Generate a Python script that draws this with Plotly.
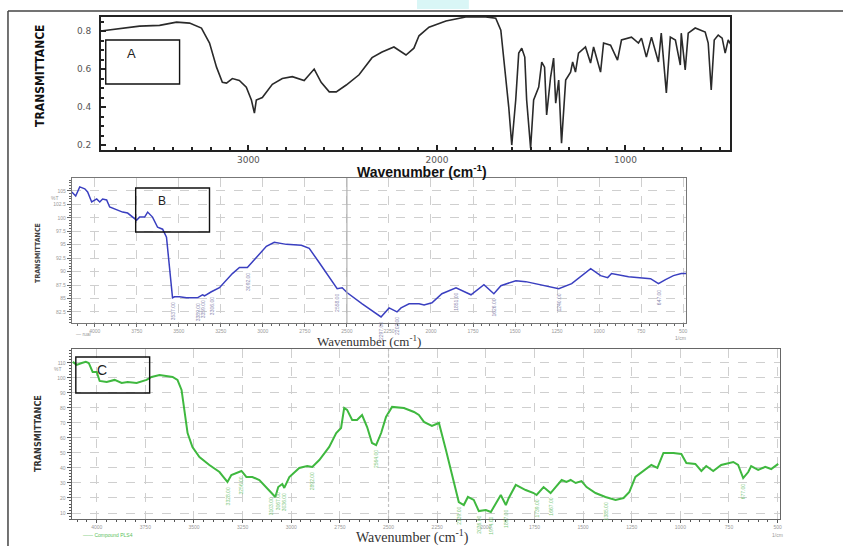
import numpy as np
import plotly.graph_objects as go

W, H = 845, 546

# ---------------- Panel A (black spectrum) ----------------
a_wavenumber = [3783, 3577, 3471, 3381, 3312, 3249, 3206, 3169, 3138, 3116, 3085, 3048, 3011, 2984, 2968,
                2958, 2926, 2873, 2820, 2767, 2704, 2651, 2614, 2571, 2534, 2481, 2413, 2344, 2291, 2228,
                2164, 2122, 2095, 2042, 1952, 1847, 1741, 1688, 1661, 1645, 1619, 1603, 1582, 1566, 1550,
                1534, 1524, 1503, 1487, 1460, 1444, 1429, 1418, 1397, 1381, 1370, 1354, 1339, 1317, 1291,
                1280, 1265, 1249, 1212, 1185, 1169, 1132, 1116, 1079, 1042, 1021, 968, 931, 915, 889,
                862, 825, 810, 783, 762, 735, 709, 704, 683, 667, 630, 577, 561, 545, 529, 508, 487, 471,
                455, 439]
a_transmittance = [0.800, 0.826, 0.830, 0.847, 0.842, 0.816, 0.737, 0.610, 0.530, 0.526, 0.550, 0.540, 0.505,
                   0.437, 0.368, 0.437, 0.450, 0.520, 0.550, 0.560, 0.540, 0.600, 0.530, 0.480, 0.480, 0.516,
                   0.570, 0.660, 0.690, 0.716, 0.674, 0.710, 0.775, 0.820, 0.853, 0.874, 0.874, 0.868, 0.805,
                   0.647, 0.400, 0.200, 0.437, 0.684, 0.710, 0.663, 0.437, 0.184, 0.437, 0.505, 0.637, 0.610,
                   0.358, 0.558, 0.658, 0.420, 0.542, 0.210, 0.542, 0.584, 0.637, 0.584, 0.684, 0.716, 0.632,
                   0.716, 0.584, 0.737, 0.726, 0.647, 0.753, 0.768, 0.737, 0.763, 0.663, 0.768, 0.637, 0.789,
                   0.474, 0.768, 0.753, 0.621, 0.789, 0.595, 0.789, 0.816, 0.795, 0.737, 0.490, 0.753, 0.779,
                   0.763, 0.684, 0.753, 0.726]
a_yticks = [0.2, 0.4, 0.6, 0.8]
a_xticks = [3000, 2000, 1000]

# ---------------- Panel B (blue spectrum) ----------------
b_wavenumber = [4136, 4113, 4089, 4059, 4042, 4018, 3988, 3970, 3953, 3929, 3911, 3869, 3834, 3804, 3774,
                3751, 3733, 3703, 3685, 3656, 3626, 3596, 3573, 3555, 3537, 3525, 3496, 3454, 3389, 3359,
                3347, 3306, 3258, 3181, 3139, 3092, 3039, 2979, 2932, 2860, 2771, 2724, 2665, 2605, 2558,
                2528, 2498, 2409, 2297, 2249, 2202, 2178, 2130, 2071, 2041, 1994, 1935, 1851, 1762, 1685,
                1626, 1584, 1495, 1436, 1240, 1163, 1050, 991, 949, 926, 825, 694, 647, 605, 558, 511, 481]
b_transmittance = [104.81, 104.06, 105.75, 105.38, 104.81, 102.94, 103.5, 102.94, 103.5, 103.31, 102.0, 101.44,
                   101.06, 100.88, 100.13, 99.56, 100.13, 100.13, 101.06, 100.13, 98.25, 97.88, 96.38, 90.75,
                   85.13, 85.31, 85.31, 85.13, 85.13, 85.69, 85.5, 86.25, 87.0, 89.63, 90.75, 90.75, 92.63,
                   94.69, 95.44, 95.06, 94.88, 94.31, 91.69, 88.88, 86.81, 87.0, 86.06, 84.0, 81.56, 83.25,
                   82.5, 83.25, 84.0, 84.0, 83.81, 84.19, 85.88, 87.0, 85.69, 87.56, 85.88, 87.38, 88.31, 88.13,
                   86.81, 87.75, 90.56, 89.25, 88.88, 89.63, 89.06, 88.69, 87.75, 88.5, 89.25, 89.63, 89.63]
b_peaks = [3537, 3389, 3359, 3306, 3092, 2558, 2297, 2202, 1851, 1626, 1240, 647]
b_yticks = [82.5, 85, 87.5, 90, 92.5, 95, 97.5, 100, 102.5, 105]
b_xticks = [4000, 3750, 3500, 3250, 3000, 2750, 2500, 2250, 2000, 1750, 1500, 1250, 1000, 750, 500]

# ---------------- Panel C (green spectrum) ----------------
c_wavenumber = [4123, 4103, 4077, 4056, 4041, 4021, 4000, 3985, 3949, 3908, 3872, 3841, 3795, 3744, 3718,
                3677, 3610, 3585, 3564, 3549, 3533, 3508, 3472, 3421, 3369, 3344, 3328, 3308, 3282, 3256,
                3231, 3200, 3164, 3128, 3103, 3082, 3067, 3046, 3036, 3010, 2959, 2918, 2892, 2856, 2805,
                2769, 2744, 2728, 2713, 2687, 2662, 2636, 2610, 2585, 2564, 2538, 2513, 2482, 2421, 2369,
                2344, 2318, 2277, 2241, 2205, 2164, 2139, 2113, 2092, 2062, 2036, 2000, 1974, 1959, 1923,
                1897, 1882, 1846, 1795, 1754, 1739, 1703, 1667, 1641, 1610, 1585, 1564, 1538, 1508, 1482,
                1436, 1385, 1333, 1292, 1262, 1231, 1179, 1149, 1118, 1087, 1036, 995, 969, 923, 892, 867,
                831, 790, 728, 703, 677, 651, 636, 600, 564, 533, 497]
c_transmittance = [110.7, 108.7, 110.0, 110.7, 110.0, 104.0, 104.0, 98.0, 97.3, 98.7, 96.7, 97.3, 96.7, 98.7,
                   100.7, 102.0, 100.7, 98.7, 92.0, 76.7, 63.3, 54.0, 47.3, 42.0, 37.3, 33.3, 30.7, 35.3, 36.7,
                   38.0, 34.0, 34.0, 32.0, 27.3, 24.0, 20.7, 27.3, 29.3, 26.7, 34.0, 40.0, 41.3, 40.7, 45.3,
                   54.0, 63.3, 66.7, 80.0, 78.7, 72.0, 72.0, 75.3, 67.3, 56.7, 55.3, 63.3, 74.0, 80.7, 80.0,
                   77.3, 75.3, 70.7, 68.0, 70.0, 52.0, 30.0, 17.3, 15.3, 20.7, 18.7, 11.3, 12.0, 10.7, 14.0,
                   22.0, 15.3, 20.0, 28.7, 25.3, 23.3, 22.0, 27.3, 23.3, 27.3, 32.0, 30.7, 32.0, 30.0, 31.3,
                   27.3, 23.3, 20.7, 18.7, 20.0, 24.0, 34.0, 38.7, 42.0, 40.0, 50.0, 50.0, 49.3, 43.3, 42.7,
                   38.0, 41.3, 38.0, 42.0, 44.0, 42.0, 33.3, 37.3, 41.3, 38.7, 40.7, 39.3, 42.7]
c_peaks = [3328, 3256, 3103, 3067, 3036, 2892, 2564, 2139, 2036, 1974, 1897, 1739, 1667, 1385, 677]
c_yticks = [10, 20, 30, 40, 50, 60, 70, 80, 90, 100, 110]
c_xticks = b_xticks


def dom_x(p0, p1):
    return [p0 / W, p1 / W]


def dom_y(top, bottom):
    return [1 - bottom / H, 1 - top / H]


def px(x):
    return x / W


def py(y):
    return 1 - y / H


fig = go.Figure()
fig.add_trace(go.Scatter(x=a_wavenumber, y=a_transmittance, mode="lines",
                         line=dict(color="#2a2a2a", width=1.6), xaxis="x", yaxis="y", showlegend=False))
fig.add_trace(go.Scatter(x=b_wavenumber, y=b_transmittance, mode="lines",
                         line=dict(color="#3a3fc0", width=1.5), xaxis="x2", yaxis="y2", showlegend=False))
fig.add_trace(go.Scatter(x=c_wavenumber, y=c_transmittance, mode="lines",
                         line=dict(color="#3fb83f", width=2), xaxis="x3", yaxis="y3", showlegend=False))

tiny = dict(family="Liberation Sans", size=5, color="#9a9a9a")

layout = dict(
    width=W, height=H, margin=dict(l=0, r=0, t=0, b=0),
    paper_bgcolor="white", plot_bgcolor="white", showlegend=False,
    # Panel A
    xaxis=dict(domain=dom_x(101, 732), range=[3783, 444], anchor="y",
               tickvals=a_xticks, ticktext=[str(v) for v in a_xticks],
               ticks="inside", ticklen=5, tickwidth=1.5, tickcolor="#222",
               minor=dict(ticks="inside", ticklen=3, dtick=100, tick0=0, tickcolor="#222"),
               showline=True, mirror=True, linecolor="#222", linewidth=1.5, showgrid=False, zeroline=False,
               tickfont=dict(family="DejaVu Sans", size=9, color="#555")),
    yaxis=dict(domain=dom_y(17, 150), range=[0.174, 0.874], anchor="x",
               tickvals=a_yticks, ticktext=["0.2", "0.4", "0.6", "0.8"],
               ticks="inside", ticklen=5, tickwidth=1.5, tickcolor="#222",
               minor=dict(ticks="inside", ticklen=3, dtick=0.05, tick0=0, tickcolor="#222"),
               showline=True, mirror=True, linecolor="#222", linewidth=1.5, showgrid=False, zeroline=False,
               ticklabelstandoff=6,
               tickfont=dict(family="DejaVu Sans", size=9, color="#555")),
    # Panel B
    xaxis2=dict(domain=dom_x(72, 688), range=[4136, 481], anchor="y2",
                tickvals=b_xticks, ticktext=[str(v) for v in b_xticks],
                ticks="outside", ticklen=3, tickcolor="#666",
                minor=dict(ticks="outside", ticklen=2, dtick=50, tick0=0, tickcolor="#666"),
                showline=True, mirror=True, linecolor="#777", linewidth=1.2,
                showgrid=True, gridcolor="#cfcfcf", griddash="dash", gridwidth=0.8, zeroline=False,
                tickfont=tiny),
    yaxis2=dict(domain=dom_y(178, 323), range=[80.44, 107.4], anchor="x2",
                tickvals=b_yticks, ticktext=[str(v) for v in b_yticks],
                ticks="outside", ticklen=4, tickcolor="#666",
                minor=dict(ticks="outside", ticklen=2, dtick=0.5, tick0=0, tickcolor="#666"),
                showline=True, mirror=True, linecolor="#777", linewidth=1.2,
                showgrid=True, gridcolor="#cfcfcf", griddash="dash", gridwidth=0.8, zeroline=False,
                tickfont=tiny),
    # Panel C
    xaxis3=dict(domain=dom_x(72, 782), range=[4128, 487], anchor="y3",
                tickvals=c_xticks, ticktext=[str(v) for v in c_xticks],
                ticks="outside", ticklen=3, tickcolor="#555",
                minor=dict(ticks="outside", ticklen=2, dtick=50, tick0=0, tickcolor="#555"),
                showline=True, mirror=True, linecolor="#666", linewidth=1.4,
                showgrid=True, gridcolor="#cfcfcf", griddash="dash", gridwidth=0.8, zeroline=False,
                tickfont=dict(family="Liberation Sans", size=5, color="#999")),
    yaxis3=dict(domain=dom_y(349, 519), range=[6, 119.3], anchor="x3",
                tickvals=c_yticks, ticktext=[str(v) for v in c_yticks],
                ticks="outside", ticklen=4, tickcolor="#555",
                minor=dict(ticks="outside", ticklen=2, dtick=2, tick0=0, tickcolor="#555"),
                showline=True, mirror=True, linecolor="#666", linewidth=1.4,
                showgrid=True, gridcolor="#cfcfcf", griddash="dash", gridwidth=0.8, zeroline=False,
                tickfont=dict(family="Liberation Sans", size=5, color="#999")),
)
fig.update_layout(**layout)

shapes = []
# outer frame lines
shapes.append(dict(type="line", xref="paper", yref="paper", x0=px(8), x1=px(845), y0=py(11), y1=py(11),
                   line=dict(color="#444", width=1.5)))
shapes.append(dict(type="line", xref="paper", yref="paper", x0=px(8), x1=px(8), y0=py(11), y1=py(546),
                   line=dict(color="#444", width=1.5)))
# emphasised 2500 lines in B and C
shapes.append(dict(type="line", xref="x2", yref="y2 domain", x0=2500, x1=2500, y0=0, y1=1,
                   line=dict(color="#b0b0b0", width=1.2)))
shapes.append(dict(type="line", xref="x3", yref="y3 domain", x0=2500, x1=2500, y0=0, y1=1,
                   line=dict(color="#c0c0c0", width=1.2, dash="dot")))
# label boxes
for (x0, y0, x1, y1) in [(106, 40, 180, 84), (136, 188, 210, 232), (76, 357, 150, 393)]:
    shapes.append(dict(type="rect", xref="paper", yref="paper", x0=px(x0), x1=px(x1), y0=py(y1), y1=py(y0),
                       line=dict(color="#111", width=1.4), fillcolor="rgba(0,0,0,0)"))
# faint cyan smudge at top
shapes.append(dict(type="rect", xref="paper", yref="paper", x0=px(418), x1=px(470), y0=py(9), y1=py(0),
                   line=dict(width=0), fillcolor="rgba(170,235,235,0.45)"))
fig.update_layout(shapes=shapes)

ann = []


def text(x, y, s, size, family="Liberation Sans", color="#111", angle=0, bold=False, xanchor="center"):
    if bold:
        s = "<b>" + s + "</b>"
    ann.append(dict(xref="paper", yref="paper", x=px(x), y=py(y), text=s, showarrow=False,
                    font=dict(family=family, size=size, color=color), textangle=angle,
                    xanchor=xanchor, yanchor="middle"))


# Panel A titles
text(423, 171, "Wavenumber (cm<sup>-1</sup>)", 14, family="Liberation Sans", bold=True)
text(40, 76, "TRANSMITTANCE", 12, family="Liberation Sans Narrow, DejaVu Sans Condensed", bold=True, angle=-90)
text(132, 54, "A", 13, family="Liberation Sans", color="#222")
# Panel B titles
text(370, 341, "Wavenumber (cm<sup>-1</sup>)", 13, family="Liberation Serif", color="#333")
text(38, 253, "TRANSMITTANCE", 7, family="Liberation Sans Narrow, DejaVu Sans Condensed", bold=True,
     angle=-90, color="#444")
text(162, 201, "B", 12, family="Liberation Sans", color="#222")
text(55, 198, "%T", 5, color="#999")
text(84, 334, "\u2014 rual", 5, color="#999")
text(682, 338, "1/cm", 5, color="#999")
# Panel C titles
text(413, 536, "Wavenumber (cm<sup>-1</sup>)", 14, family="Liberation Serif", color="#333")
text(38, 433, "TRANSMITTANCE", 9, family="Liberation Sans Narrow, DejaVu Sans Condensed", bold=True,
     angle=-90, color="#333")
text(102, 370, "C", 14, family="Liberation Sans", color="#222")
text(58, 369, "%T", 5, color="#999")
text(108, 535, "\u2014\u2014 Compound PLS4", 5, color="#5cbf5c")
text(779, 535, "1/cm", 5, color="#999")

# peak labels
for wn in b_peaks:
    yv = float(np.interp(wn, b_wavenumber[::-1], b_transmittance[::-1]))
    ann.append(dict(xref="x2", yref="y2", x=wn, y=yv, text=f"{wn:.2f}", showarrow=False, textangle=-90,
                    yanchor="top", yshift=-3, font=dict(family="Liberation Sans", size=5, color="#8a8ab0")))
for wn in c_peaks:
    yv = float(np.interp(wn, c_wavenumber[::-1], c_transmittance[::-1]))
    ann.append(dict(xref="x3", yref="y3", x=wn, y=yv, text=f"{wn:.2f}", showarrow=False, textangle=-90,
                    yanchor="top", yshift=-3, font=dict(family="Liberation Sans", size=5, color="#7cc87c")))

fig.update_layout(annotations=ann)
fig.write_html("out.html", config={"displayModeBar": False},
               post_script="document.body.style.margin='0';document.body.style.overflow='hidden';")
